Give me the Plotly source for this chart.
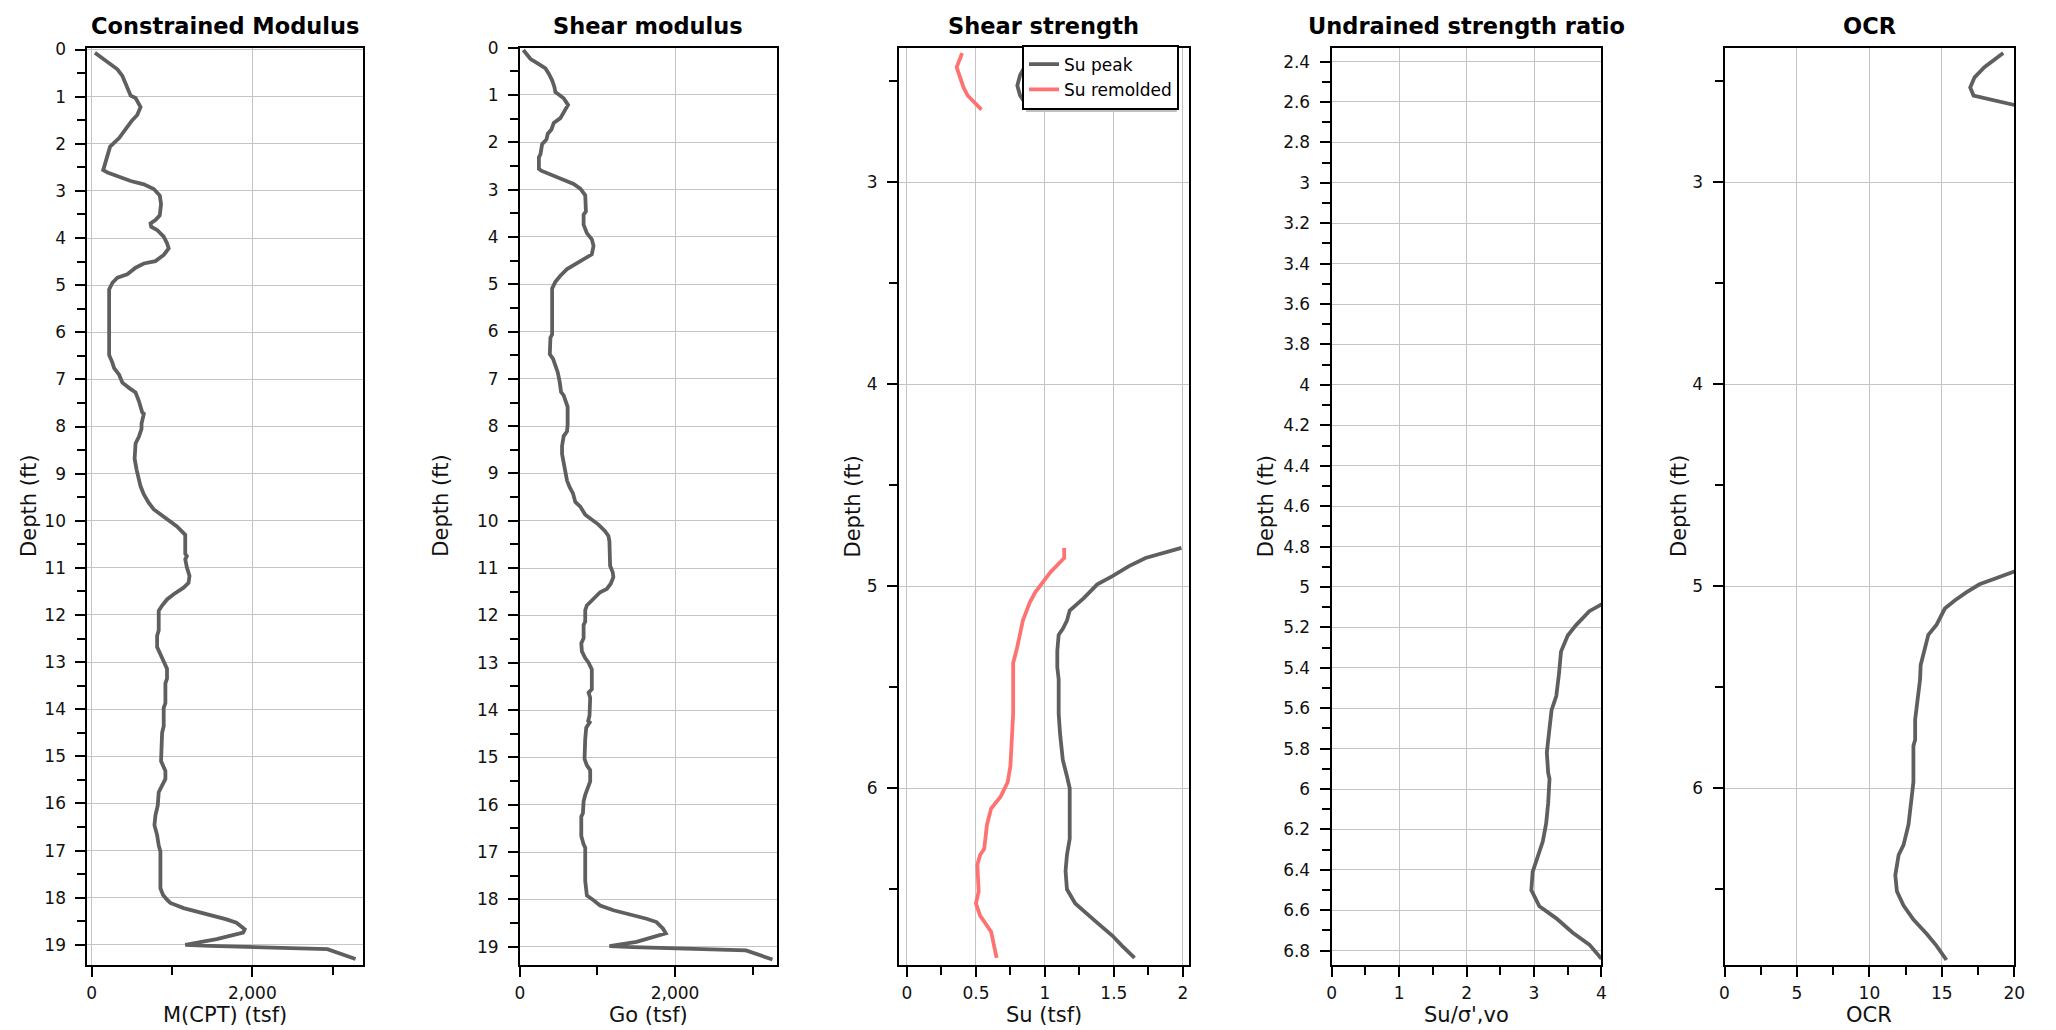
import plotly.graph_objects as go

W, H = 2056, 1030
FONT = "DejaVu Sans"
LINE_GRAY = "#5f5f5f"
SALMON = "#ff7272"

# ---------------- data ----------------
m_depth = [0.07, 0.21, 0.31, 0.42, 0.56, 0.73, 0.87, 0.98, 1.03, 1.22, 1.39, 1.50, 1.64, 1.88, 2.06, 2.26,
           2.51, 2.56, 2.61, 2.68, 2.79, 2.86, 2.96, 3.10, 3.28, 3.52, 3.62, 3.69, 3.76, 3.83, 3.97, 4.11,
           4.22, 4.36, 4.49, 4.54, 4.63, 4.77, 4.84, 4.95, 5.09, 5.44, 6.48, 6.65, 6.76, 6.90, 7.07, 7.18,
           7.28, 7.46, 7.70, 7.73, 7.94, 8.05, 8.22, 8.36, 8.54, 8.68, 8.92, 9.09, 9.27, 9.44, 9.62, 9.76,
           9.86, 9.98, 10.12, 10.30, 10.70, 10.75, 10.82, 10.99, 11.17, 11.32, 11.42, 11.56, 11.67, 11.80,
           11.91, 12.33, 12.44, 12.68, 12.82, 12.96, 13.14, 13.35, 13.45, 13.87, 13.97, 14.36, 14.50, 15.10,
           15.31, 15.48, 15.59, 15.76, 16.04, 16.25, 16.46, 16.67, 16.89, 17.02, 17.80, 17.94, 18.04, 18.11,
           18.22, 18.29, 18.39, 18.46, 18.53, 18.67, 18.74, 18.88, 19.00, 19.02, 19.09, 19.30]
m_cpt = [41, 156, 218, 321, 383, 424, 465, 486, 547, 609, 568, 506, 444, 342, 230, 198,
         156, 144, 198, 321, 486, 650, 774, 848, 864, 848, 794, 733, 741, 815, 897, 938,
         959, 897, 794, 650, 547, 444, 321, 259, 218, 218, 218, 259, 280, 342, 383, 465,
         547, 588, 630, 650, 621, 621, 588, 547, 535, 535, 560, 588, 609, 650, 712, 774,
         856, 938, 1062, 1165, 1165, 1185, 1165, 1185, 1218, 1206, 1144, 1021, 938, 877,
         835, 835, 815, 815, 856, 889, 938, 938, 918, 918, 897, 897, 877, 864,
         918, 918, 889, 835, 823, 794, 782, 815, 835, 856, 856, 889, 938, 979,
         1144, 1309, 1514, 1679, 1802, 1905, 1885, 1556, 1165, 1473, 2934, 3284]

g_depth = [0.05, 0.14, 0.24, 0.35, 0.44, 0.55, 0.69, 0.83, 0.94, 0.99, 1.07, 1.21, 1.32, 1.49, 1.59, 1.73,
           1.82, 1.94, 2.04, 2.25, 2.32, 2.56, 2.60, 2.70, 2.81, 2.88, 2.98, 3.12, 3.46, 3.53, 3.74, 3.92,
           4.05, 4.19, 4.37, 4.47, 4.57, 4.68, 4.82, 4.95, 5.09, 6.06, 6.13, 6.48, 6.58, 6.72, 6.86, 7.07,
           7.28, 7.35, 7.45, 7.59, 7.97, 8.11, 8.21, 8.42, 8.59, 8.77, 8.94, 9.15, 9.29, 9.42, 9.60, 9.70,
           9.87, 9.97, 10.08, 10.22, 10.32, 10.43, 10.88, 10.95, 11.09, 11.19, 11.33, 11.44, 11.51, 11.61,
           11.67, 11.79, 11.89, 12.13, 12.20, 12.48, 12.59, 12.76, 12.90, 13.00, 13.14, 13.56, 13.63, 13.74,
           14.12, 14.23, 14.26, 14.37, 14.61, 15.03, 15.17, 15.27, 15.51, 15.69, 15.79, 15.93, 16.18, 16.25,
           16.66, 16.84, 16.91, 17.61, 17.82, 17.92, 18.02, 18.13, 18.23, 18.30, 18.37, 18.41, 18.48, 18.62,
           18.72, 18.79, 18.90, 18.99, 19.01, 19.08, 19.27]
g_o = [43, 94, 137, 244, 329, 372, 415, 444, 457, 500, 564, 620, 586, 521, 436, 406,
       359, 342, 286, 265, 244, 244, 274, 415, 564, 692, 778, 842, 851, 821, 821, 863,
       927, 949, 927, 821, 714, 607, 521, 457, 415, 415, 393, 385, 427, 457, 487, 513,
       530, 564, 586, 615, 615, 607, 564, 543, 543, 564, 590, 607, 641, 684, 714, 778,
       842, 927, 1013, 1098, 1141, 1154, 1154, 1163, 1197, 1205, 1171, 1120, 1034, 970,
       927, 863, 842, 842, 821, 821, 791, 799, 842, 885, 927, 927, 885, 906,
       897, 880, 900, 855, 842, 833, 863, 906, 906, 863, 842, 821, 812, 791,
       791, 821, 842, 842, 855, 863, 949, 1034, 1205, 1376, 1504, 1633, 1761, 1846,
       1881, 1718, 1504, 1154, 1462, 2915, 3257]

su_peak_depth = [2.36, 2.42, 2.47, 2.52, 2.57, 2.63, None,
                 4.81, 4.86, 4.90, 4.95, 4.99, 5.06, 5.12, 5.17, 5.21, 5.24, 5.32, 5.40, 5.46, 5.63,
                 5.73, 5.86, 5.94, 6.00, 6.07, 6.25, 6.33, 6.41, 6.50, 6.57, 6.66, 6.73, 6.78, 6.84]
su_peak = [0.92, 0.86, 0.82, 0.80, 0.82, 0.88, None,
           1.99, 1.73, 1.61, 1.49, 1.38, 1.28, 1.18, 1.16, 1.13, 1.10, 1.09, 1.09, 1.10, 1.10,
           1.11, 1.13, 1.16, 1.18, 1.18, 1.18, 1.16, 1.15, 1.16, 1.22, 1.37, 1.49, 1.56, 1.65]

su_rem_depth = [2.36, 2.43, 2.53, 2.57, 2.64, None,
                4.81, 4.86, 4.93, 4.99, 5.03, 5.08, 5.17, 5.30, 5.38, 5.63, 5.73, 5.89, 5.97, 6.04,
                6.10, 6.18, 6.30, 6.33, 6.38, 6.51, 6.57, 6.63, 6.71, 6.77, 6.84]
su_rem = [0.40, 0.36, 0.41, 0.44, 0.54, None,
          1.14, 1.14, 1.04, 0.97, 0.93, 0.89, 0.84, 0.80, 0.77, 0.77, 0.76, 0.75, 0.73, 0.68,
          0.61, 0.58, 0.56, 0.53, 0.51, 0.52, 0.50, 0.53, 0.61, 0.63, 0.65]

ratio_depth = [2.36, 2.47, 2.57, 2.64, None,
               4.81, 4.86, 4.95, 5.03, 5.12, 5.19, 5.24, 5.32, 5.43, 5.54, 5.61, 5.71, 5.82, 5.92,
               5.95, 6.07, 6.17, 6.26, 6.35, 6.41, 6.50, 6.58, 6.64, 6.71, 6.77, 6.84]
ratio = [5.6, 5.1, 5.0, 5.4, None,
         6.6, 5.7, 4.9, 4.3, 3.82, 3.62, 3.50, 3.40, 3.37, 3.33, 3.26, 3.22, 3.19, 3.21,
         3.23, 3.21, 3.18, 3.13, 3.04, 2.98, 2.96, 3.08, 3.33, 3.57, 3.82, 4.0]

ocr_depth = [2.36, 2.43, 2.48, 2.53, 2.57, 2.64, None,
             4.81, 4.86, 4.96, 4.99, 5.03, 5.07, 5.11, 5.19, 5.24, 5.30, 5.39, 5.46, 5.60, 5.66,
             5.76, 5.79, 5.97, 6.05, 6.18, 6.28, 6.33, 6.43, 6.51, 6.58, 6.65, 6.72, 6.78, 6.85]
ocr = [19.24, 17.94, 17.26, 16.96, 17.19, 21.4, None,
       26.0, 22.5, 18.74, 17.60, 16.69, 15.89, 15.21, 14.64, 14.07, 13.84, 13.54, 13.50, 13.27, 13.16,
       13.16, 13.04, 13.04, 12.93, 12.70, 12.36, 12.02, 11.79, 11.90, 12.36, 13.04, 13.95, 14.64, 15.32]

titles = ["Constrained Modulus", "Shear modulus", "Shear strength", "Undrained strength ratio", "OCR"]
x_titles = ["M(CPT) (tsf)", "Go (tsf)", "Su (tsf)", "Su/σ',vo", "OCR"]

# ---------------- layout geometry (pixels) ----------------
panels = [(83, 361), (519, 778), (901, 1193), (1337, 1609), (1733, 2025)]
top_px, bot_px = 38, 964
ylabel_x = [24, 440, 855, 1271, 1687]


def fx(p):
    return p / W


def fy(p):
    return 1 - p / H


LW = 3.8
fig = go.Figure()
fig.add_trace(go.Scatter(x=m_cpt, y=m_depth, mode="lines", line=dict(color=LINE_GRAY, width=LW),
                         xaxis="x", yaxis="y", showlegend=False))
fig.add_trace(go.Scatter(x=g_o, y=g_depth, mode="lines", line=dict(color=LINE_GRAY, width=LW),
                         xaxis="x2", yaxis="y2", showlegend=False))
fig.add_trace(go.Scatter(x=su_peak, y=su_peak_depth, mode="lines", name="Su peak",
                         line=dict(color=LINE_GRAY, width=LW), xaxis="x3", yaxis="y3"))
fig.add_trace(go.Scatter(x=su_rem, y=su_rem_depth, mode="lines", name="Su remolded",
                         line=dict(color=SALMON, width=LW), xaxis="x3", yaxis="y3"))
fig.add_trace(go.Scatter(x=ratio, y=ratio_depth, mode="lines", line=dict(color=LINE_GRAY, width=LW),
                         xaxis="x4", yaxis="y4", showlegend=False))
fig.add_trace(go.Scatter(x=ocr, y=ocr_depth, mode="lines", line=dict(color=LINE_GRAY, width=LW),
                         xaxis="x5", yaxis="y5", showlegend=False))

common = dict(showline=True, linecolor="black", linewidth=2, mirror=True,
              ticks="outside", ticklen=10, tickwidth=2, tickcolor="black",
              showgrid=True, gridcolor="#c4c4c4", gridwidth=1, zeroline=False,
              tickfont=dict(family=FONT, size=17, color="#111111"))


def minor(dt):
    return dict(ticks="outside", ticklen=8, tickwidth=2, tickcolor="black", dtick=dt, showgrid=False)


x_specs = [
    dict(range=[-53, 3379], dtick=2000, tick0=0, tickformat=",", minor=minor(1000)),
    dict(range=[0, 3315], dtick=2000, tick0=0, tickformat=",", minor=minor(1000)),
    dict(range=[-0.058, 2.043], dtick=0.5, tick0=0, minor=minor(0.25)),
    dict(range=[0, 4], dtick=1, tick0=0, minor=minor(0.5)),
    dict(range=[0, 20], dtick=5, tick0=0, minor=minor(2.5)),
]
y_specs = [
    dict(range=[19.42, -0.04], dtick=1, tick0=0, minor=minor(0.5)),
    dict(range=[19.38, 0], dtick=1, tick0=0, minor=minor(0.5)),
    dict(range=[6.873, 2.333], dtick=1, tick0=0, minor=minor(0.5)),
    dict(range=[6.869, 2.331], dtick=0.2, tick0=0, minor=minor(0.1)),
    dict(range=[6.873, 2.333], dtick=1, tick0=0, minor=minor(0.5)),
]

layout = dict(width=W, height=H, margin=dict(l=0, r=0, t=0, b=0),
              paper_bgcolor="white", plot_bgcolor="white",
              font=dict(family=FONT, color="black"))
annotations = []
for i, ((l, r), xs, ys) in enumerate(zip(panels, x_specs, y_specs)):
    sfx = "" if i == 0 else str(i + 1)
    layout["xaxis" + sfx] = dict(common, domain=[fx(l), fx(r)], anchor="y" + sfx,
                                 ticklabelstandoff=2, **xs)
    layout["yaxis" + sfx] = dict(common, domain=[fy(bot_px), fy(top_px)], anchor="x" + sfx,
                                 ticklabelstandoff=6, **ys)
    cx = (l + r) / 2
    annotations.append(dict(text=titles[i], x=fx(cx), y=fy(16), xref="paper", yref="paper",
                            showarrow=False, xanchor="center", yanchor="middle",
                            font=dict(family=FONT, size=22.5, color="black", weight="bold")))
    annotations.append(dict(text=x_titles[i], x=fx(cx), y=fy(1015), xref="paper", yref="paper",
                            showarrow=False, xanchor="center", yanchor="middle",
                            font=dict(family=FONT, size=21, color="#111111")))
    annotations.append(dict(text="Depth (ft)", x=fx(ylabel_x[i]), y=fy(501), xref="paper", yref="paper",
                            showarrow=False, xanchor="center", yanchor="middle", textangle=-90,
                            font=dict(family=FONT, size=21, color="#111111")))

layout["annotations"] = annotations
layout["legend"] = dict(x=fx(1025), y=fy(35), xanchor="left", yanchor="top",
                        bgcolor="white", bordercolor="black", borderwidth=2,
                        font=dict(family=FONT, size=17, color="black"),
                        itemwidth=30, tracegroupgap=0)
layout["shapes"] = [dict(type="rect", xref="paper", yref="paper",
                         x0=fx(1029), x1=fx(1181), y0=fy(103), y1=fy(39),
                         fillcolor="#c0c0c0", line=dict(width=0), layer="above")]

fig.update_layout(**layout)
fig.write_html("out.html")
